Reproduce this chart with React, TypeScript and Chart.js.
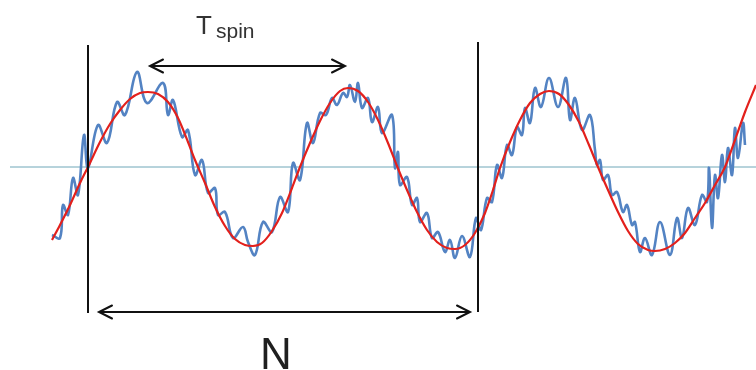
import React, { useEffect, useRef } from "react";
import { Chart, registerables } from "chart.js";
Chart.register(...registerables);

// Smooth (red) curve (x, y in picture units, y downward)
const redX = [52, 60, 70, 80, 88, 100, 110, 120, 130, 140, 148, 158, 168, 178, 188, 195, 205, 215, 225, 235, 245, 253, 262, 272, 282, 292, 300, 310, 320, 330, 340, 348, 358, 368, 378, 388, 397, 407, 417, 427, 437, 447, 455, 465, 475, 485, 493, 500, 510, 520, 530, 540, 549, 559, 569, 579, 589, 598, 608, 618, 628, 638, 648, 655, 665, 675, 685, 695, 705, 715, 725, 735, 745, 756];
const redY = [240, 225, 205, 183, 167, 142, 124, 110, 99, 93, 92, 94, 102, 118, 142, 160, 183, 207, 226, 239, 245, 246, 243, 231, 213, 188, 167, 143, 121, 103, 91, 88, 91, 102, 120, 143, 166, 190, 212, 230, 242, 248, 249, 245, 233, 213, 190, 168, 142, 120, 103, 94, 91, 94, 105, 122, 145, 167, 190, 212, 231, 244, 250, 251, 249, 243, 233, 218, 203, 185, 167, 140, 112, 85];

// Noisy (blue) signal
const blueX = [52, 60, 63, 68, 73, 78, 84, 88, 98, 107, 117, 125, 137, 147, 163, 168, 173, 182, 188, 195, 202, 208, 215, 218, 225, 233, 243, 248, 255, 263, 272, 280, 288, 293, 300, 307, 313, 320, 326, 332, 337, 343, 347, 350, 355, 358, 362, 368, 372, 378, 382, 392, 395, 398, 400, 407, 412, 417, 420, 427, 432, 438, 445, 450, 455, 462, 470, 476, 481, 487, 492, 497, 502, 507, 512, 517, 522, 525, 530, 535, 541, 549, 558, 566, 570, 575, 582, 590, 595, 597, 600, 603, 608, 612, 617, 623, 627, 632, 635, 640, 645, 652, 660, 670, 677, 682, 688, 695, 702, 707, 709, 712, 715, 718, 722, 725, 728, 732, 735, 738, 743, 745];
const blueY = [235, 238, 205, 215, 178, 195, 135, 168, 125, 143, 102, 115, 72, 103, 83, 115, 100, 137, 130, 175, 160, 193, 188, 215, 212, 238, 227, 242, 255, 222, 232, 197, 212, 163, 180, 123, 143, 113, 115, 98, 105, 93, 97, 85, 102, 83, 108, 98, 122, 107, 133, 115, 168, 152, 185, 177, 205, 198, 222, 213, 238, 232, 252, 240, 258, 236, 257, 218, 230, 198, 202, 165, 178, 145, 155, 127, 135, 108, 123, 88, 107, 78, 107, 78, 120, 98, 130, 115, 150, 165, 160, 180, 175, 195, 192, 212, 205, 225, 222, 252, 238, 255, 222, 255, 218, 238, 208, 225, 195, 202, 168, 228, 175, 198, 155, 182, 148, 175, 128, 158, 123, 145];

// Annotation geometry (picture units)
const zeroLineX = [10, 756];
const zeroLineY = [167, 167];
const leftBarX = [88, 88];
const leftBarY = [45, 313];
const rightBarX = [478, 478];
const rightBarY = [42, 312];
const tspinArrowX = [150, 345];
const tspinArrowY = [66, 66];
const nArrowX = [99, 470];
const nArrowY = [312, 312];
const labelTx = 196;
const labelTy = 34;
const labelSpinX = 216;
const labelSpinY = 38;
const labelNx = 276;
const labelNy = 369;

const pts = (xs: number[], ys: number[]) => xs.map((x, i) => ({ x, y: ys[i] }));

const overlay = {
  id: "overlay",
  afterDatasetsDraw(chart: any) {
    const { ctx, scales } = chart;
    const sx = (v: number) => scales.x.getPixelForValue(v);
    const sy = (v: number) => scales.y.getPixelForValue(v);
    ctx.save();
    ctx.strokeStyle = "#111";
    ctx.lineWidth = 2;
    ctx.lineCap = "round";
    ctx.lineJoin = "miter";
    const head = (x: number, y: number, dir: number) => {
      ctx.beginPath();
      ctx.moveTo(sx(x) - dir * 13, sy(y) - 6.5);
      ctx.lineTo(sx(x), sy(y));
      ctx.lineTo(sx(x) - dir * 13, sy(y) + 6.5);
      ctx.stroke();
    };
    head(tspinArrowX[0], tspinArrowY[0], -1);
    head(tspinArrowX[1], tspinArrowY[1], 1);
    head(nArrowX[0], nArrowY[0], -1);
    head(nArrowX[1], nArrowY[1], 1);

    ctx.fillStyle = "#333";
    ctx.textBaseline = "alphabetic";
    ctx.textAlign = "left";
    ctx.font = "26px 'Liberation Sans', Arial, sans-serif";
    ctx.fillText("T", sx(labelTx), sy(labelTy));
    ctx.font = "21px 'Liberation Sans', Arial, sans-serif";
    ctx.fillText("spin", sx(labelSpinX), sy(labelSpinY));
    ctx.fillStyle = "#1f1f1f";
    ctx.textAlign = "center";
    ctx.font = "44px 'Liberation Sans', Arial, sans-serif";
    ctx.fillText("N", sx(labelNx), sy(labelNy));
    ctx.restore();
  },
};

export default function App() {
  const ref = useRef<HTMLCanvasElement | null>(null);
  useEffect(() => {
    document.body.style.margin = "0";
    const black = { borderColor: "#111", borderWidth: 2, pointRadius: 0, tension: 0 };
    const chart = new Chart(ref.current as HTMLCanvasElement, {
      type: "line",
      data: {
        datasets: [
          { data: pts(redX, redY), borderColor: "#e3201c", borderWidth: 2.2, pointRadius: 0, cubicInterpolationMode: "monotone", order: 1 } as any,
          { data: pts(blueX, blueY), borderColor: "#5383c3", borderWidth: 2.6, pointRadius: 0, tension: 0.4, order: 2 } as any,
          { data: pts(zeroLineX, zeroLineY), borderColor: "#6fa7b8", borderWidth: 1, pointRadius: 0, order: 3 } as any,
          { data: pts(leftBarX, leftBarY), ...black, order: 0 } as any,
          { data: pts(rightBarX, rightBarY), ...black, order: 0 } as any,
          { data: pts(tspinArrowX, tspinArrowY), ...black, order: 0 } as any,
          { data: pts(nArrowX, nArrowY), ...black, order: 0 } as any,
        ],
      },
      options: {
        animation: false,
        responsive: false,
        parsing: false,
        layout: { padding: 0 },
        plugins: { legend: { display: false }, tooltip: { enabled: false } },
        scales: {
          x: { type: "linear", min: 0, max: 756, display: false },
          y: { type: "linear", min: 0, max: 370, reverse: true, display: false },
        },
      } as any,
      plugins: [overlay],
    });
    return () => chart.destroy();
  }, []);
  return (
    <div style={{ width: 756, height: 370, background: "#fff" }}>
      <canvas ref={ref} width={756} height={370} />
    </div>
  );
}
